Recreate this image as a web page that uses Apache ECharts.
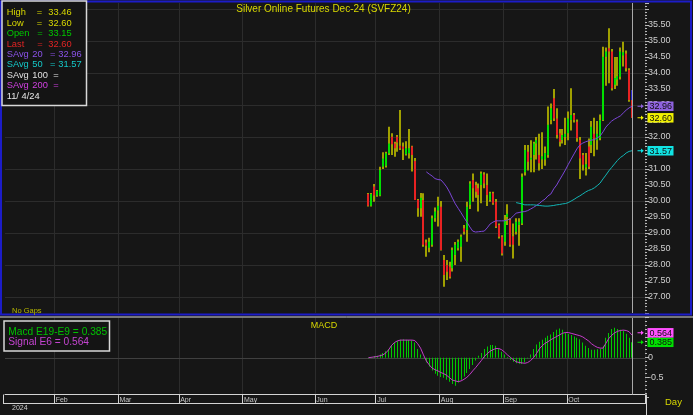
<!DOCTYPE html>
<html>
<head>
<meta charset="utf-8">
<script src="https://cdn.jsdelivr.net/npm/echarts@6.0.0/dist/echarts.min.js"></script>
<style>
html,body{margin:0;padding:0;background:#161616;overflow:hidden;}
#chart{width:693px;height:415px;}
</style>
</head>
<body>
<div id="chart"></div>
<script>
// ---------------- data ----------------
const titleText = 'Silver Online Futures Dec-24 (SVFZ24)';
const monthLabels = ['Feb','Mar','Apr','May','Jun','Jul','Aug','Sep','Oct'];
const monthStartBars = [17,39,60,82,107,128,150,172,194];
const yearLabel = '2024';
const totalBars = 221;
const firstDataBar = 125;
const tradeMonths = ['2024-06','2024-07','2024-08','2024-09','2024-10','2024-11'];
const tradeDays = [
  [26,27,28],
  [1,2,3,5,8,9,10,11,12,15,16,17,18,19,22,23,24,25,26,29,30,31],
  [1,2,5,6,7,8,9,12,13,14,15,16,19,20,21,22,23,26,27,28,29,30],
  [3,4,5,6,9,10,11,12,13,16,17,18,19,20,23,24,25,26,27,30],
  [1,2,3,4,7,8,9,10,11,14,15,16,17,18,21,22,23,24,25,28,29,30,31],
  [1,4]
];
const opens = [30.22,29.85,30.45,30.17,30.17,31.07,31.10,31.49,32.01,31.80,
  32.01,31.73,31.70,31.46,31.49,31.70,31.25,30.03,29.77,30.03,
  28.70,28.54,28.63,29.46,29.70,29.82,28.16,28.00,27.95,27.90,
  28.31,28.52,28.57,29.15,29.09,29.88,30.66,30.50,30.40,30.50,
  30.83,30.50,30.03,30.24,29.98,29.25,28.88,28.73,29.50,29.41,
  28.90,29.04,29.25,29.30,30.90,31.54,31.30,31.44,31.80,31.44,
  31.30,31.30,31.44,32.53,33.21,32.58,32.12,31.91,32.00,32.12,
  32.53,32.69,32.48,31.91,31.44,31.05,31.70,31.75,32.10,31.90,
  31.96,32.53,34.51,34.77,34.67,33.63,33.80,33.88,34.55,34.61,
  34.09,33.15];
const highs = [30.25,30.25,30.53,30.34,31.07,31.52,31.54,32.32,32.12,31.85,
  32.06,32.84,31.83,31.87,32.25,31.73,31.34,30.06,30.25,30.24,
  28.80,28.85,29.55,29.80,30.13,30.00,28.31,28.16,28.10,28.55,
  28.72,28.80,28.95,29.25,29.98,30.62,30.86,30.60,30.55,30.92,
  30.90,30.86,30.29,30.29,30.06,29.30,28.93,29.56,29.90,29.46,
  29.30,29.46,29.46,30.86,31.75,31.75,31.90,31.85,32.00,32.10,
  32.15,31.70,32.95,33.05,33.50,32.90,32.25,32.25,32.60,32.80,
  33.52,32.75,32.55,32.00,31.50,31.50,31.95,32.50,32.60,32.50,
  32.70,34.82,34.80,35.40,34.75,34.50,34.50,34.80,34.98,34.70,
  34.15,33.46];
const lows = [29.83,29.83,29.98,30.13,30.15,31.00,31.05,31.44,31.44,31.38,
  31.54,31.59,31.28,31.42,31.33,30.92,30.03,29.51,29.51,28.57,
  28.26,28.40,28.57,29.35,29.20,28.45,27.32,27.53,27.58,27.80,
  28.00,28.45,28.10,28.95,28.73,29.75,29.98,30.10,29.67,29.93,
  30.40,29.84,29.98,29.88,29.16,28.83,28.30,28.60,29.25,28.57,
  28.20,28.95,28.60,29.25,30.80,30.95,30.90,30.90,31.30,30.95,
  31.00,31.10,31.35,32.40,32.50,31.95,31.70,31.80,31.75,31.90,
  32.20,32.45,31.85,30.69,30.95,30.80,31.00,31.50,31.40,31.60,
  31.90,32.50,33.60,33.68,33.45,33.50,33.60,33.80,34.20,34.05,
  33.10,32.60];
const closes = [29.85,30.22,30.17,30.31,30.97,31.33,31.49,31.80,31.77,31.65,
  31.83,31.65,31.62,31.65,31.65,31.44,30.03,29.77,30.10,28.63,
  28.60,28.73,29.46,29.67,29.85,28.47,27.69,27.79,27.63,28.47,
  28.63,28.73,28.88,29.04,29.82,30.55,30.40,30.29,30.19,30.86,
  30.55,30.19,30.24,29.93,29.20,28.88,28.36,29.41,29.60,28.63,
  28.63,29.35,29.35,30.76,31.59,31.23,31.35,31.80,31.90,31.18,
  31.40,31.50,32.38,32.90,32.58,32.06,31.85,32.06,32.10,32.58,
  32.69,32.53,31.96,31.33,31.13,31.15,31.07,32.32,31.95,32.10,
  32.53,34.51,34.67,34.67,33.52,33.84,33.90,34.67,34.65,34.15,
  33.16,32.60];
const sma20Start = 20;
const sma20 = [30.91,30.84,30.78,30.70,30.67,30.66,30.56,30.44,30.28,30.09,
  29.91,29.77,29.63,29.48,29.34,29.19,29.06,29.03,29.04,29.05,
  29.06,29.16,29.28,29.34,29.38,29.38,29.38,29.38,29.41,29.44,
  29.53,29.62,29.64,29.66,29.67,29.70,29.75,29.80,29.86,29.92,
  30.00,30.06,30.16,30.22,30.38,30.50,30.66,30.81,30.97,31.14,
  31.31,31.47,31.63,31.75,31.81,31.85,31.88,31.90,31.92,31.97,
  32.03,32.16,32.31,32.41,32.50,32.56,32.61,32.66,32.75,32.84,
  32.91,32.96];
const sma50Start = 51;
const sma50 = [29.95,29.93,29.91,29.88,29.88,29.88,29.88,29.87,29.86,29.85,
  29.84,29.84,29.85,29.86,29.88,29.89,29.91,29.92,29.95,30.00,
  30.05,30.11,30.16,30.22,30.28,30.33,30.36,30.41,30.48,30.56,
  30.69,30.81,30.94,31.05,31.16,31.27,31.36,31.42,31.50,31.55,
  31.57];
const macd = [0.00,0.02,0.04,0.05,0.08,0.12,0.16,0.22,0.32,0.38,
  0.42,0.45,0.46,0.45,0.44,0.43,0.38,0.22,0.08,-0.02,
  -0.12,-0.22,-0.32,-0.40,-0.45,-0.48,-0.50,-0.55,-0.60,-0.66,
  -0.70,-0.62,-0.55,-0.47,-0.38,-0.28,-0.18,-0.07,0.05,0.12,
  0.22,0.28,0.32,0.32,0.30,0.22,0.15,0.08,0.02,-0.06,
  -0.10,-0.14,-0.15,-0.16,-0.12,-0.02,0.08,0.22,0.33,0.40,
  0.45,0.50,0.55,0.58,0.64,0.70,0.73,0.70,0.63,0.60,
  0.57,0.53,0.50,0.46,0.38,0.30,0.24,0.20,0.20,0.21,
  0.22,0.30,0.50,0.62,0.72,0.75,0.72,0.70,0.68,0.60,
  0.50,0.385];
const signal = [0.00,0.01,0.02,0.03,0.05,0.07,0.12,0.20,0.31,0.38,
  0.42,0.44,0.44,0.44,0.44,0.44,0.43,0.35,0.24,0.07,
  -0.08,-0.18,-0.26,-0.30,-0.33,-0.37,-0.40,-0.44,-0.50,-0.56,
  -0.58,-0.60,-0.58,-0.54,-0.49,-0.42,-0.33,-0.25,-0.16,-0.07,
  0.03,0.10,0.16,0.20,0.23,0.23,0.20,0.14,0.07,0.01,
  -0.05,-0.10,-0.12,-0.13,-0.14,-0.12,-0.07,0.00,0.10,0.22,
  0.30,0.36,0.40,0.45,0.49,0.53,0.57,0.61,0.63,0.63,
  0.61,0.59,0.57,0.55,0.52,0.47,0.42,0.35,0.30,0.26,
  0.24,0.24,0.36,0.48,0.56,0.62,0.66,0.68,0.69,0.68,
  0.65,0.564];
const macdZeroLevel = 0;

// ---------------- build ----------------
const FONT = 'Liberation Sans';
const C = {
  bg:'#161616', grid:'#2c2c2c', zero:'#404040', axisText:'#d0d0d0', tick:'#b8b8b8',
  up:'#00e000', down:'#e82222', wick:'#a0a000', yellow:'#d8d800',
  sma20:'#7c46d8', sma50:'#12b4b4', hist:'#00c800', signal:'#c43cc8',
  border:'#1c1cc8', box:'#d8d8d8'
};
const dates = [];
tradeMonths.forEach((m, k) => tradeDays[k].forEach(d => dates.push(m + '-' + String(d).padStart(2,'0'))));
const categories = [];
for (let b = 0; b < totalBars; b++) {
  const k = b - firstDataBar;
  categories.push(k >= 0 && k < dates.length ? dates[k] : 'bar' + b);
}
const monthSet = new Set(monthStartBars);
const isMonth = (idx) => monthSet.has(idx);
const last = opens.length - 1;
const lastBar = firstDataBar + last;

const candleData = opens.map((o, i) => [firstDataBar + i, o, closes[i], lows[i], highs[i]]);
const sma20Data = sma20.map((v, i) => [firstDataBar + sma20Start + i, v]);
const sma50Data = sma50.map((v, i) => [firstDataBar + sma50Start + i, v]);
const macdData = macd.map((v, i) => [firstDataBar + i, v]);
const signalData = signal.map((v, i) => [firstDataBar + i, v]);
const T0 = 'rgba(0,0,0,0)';

const option = {
  backgroundColor: C.bg,
  animation: false,
  textStyle: { fontFamily: FONT },
  grid: [
    { left: 5, right: 48, top: 3, height: 310, containLabel: false },
    { left: 5, right: 48, top: 317.7, height: 80, containLabel: false }
  ],
  xAxis: [
    { type: 'category', gridIndex: 0, data: categories, boundaryGap: true,
      axisLine: { show: false, onZero: false }, axisTick: { show: false }, axisLabel: { show: false },
      splitLine: { show: true, interval: isMonth, lineStyle: { color: C.grid, width: 1 } } },
    { type: 'category', gridIndex: 1, data: categories, boundaryGap: true, position: 'bottom', offset: -3,
      axisLine: { show: true, onZero: false, lineStyle: { color: '#d4d4d4', width: 1 } },
      axisTick: { show: true, interval: isMonth, length: 9, inside: false, lineStyle: { color: '#d4d4d4', width: 1 } },
      axisLabel: { show: true, interval: isMonth, align: 'left', margin: 2, fontSize: 7, color: '#c8c8c8', fontFamily: FONT,
        formatter: (v, idx) => { const j = monthStartBars.indexOf(idx); return j >= 0 ? monthLabels[j] : ''; } },
      splitLine: { show: true, interval: isMonth, lineStyle: { color: C.grid, width: 1 } } }
  ],
  yAxis: [
    { type: 'value', gridIndex: 0, position: 'right', min: 26.5, max: 36.1875, interval: 0.5, scale: true,
      axisLine: { show: false },
      axisTick: { show: true, length: 4, lineStyle: { color: C.tick } },
      minorTick: { show: true, splitNumber: 5, length: 2, lineStyle: { color: C.tick } },
      axisLabel: { show: true, margin: 3, fontSize: 9, color: C.axisText, fontFamily: FONT,
        formatter: v => (v >= 27 - 1e-9 && v <= 35.5 + 1e-9) ? v.toFixed(2) : '' },
      splitLine: { show: true, lineStyle: { color: [T0, C.grid], width: 1 } } },
    { type: 'value', gridIndex: 1, position: 'right', min: -1, max: 1, interval: 0.5,
      axisLine: { show: false },
      axisTick: { show: true, length: 4, lineStyle: { color: C.tick } },
      minorTick: { show: true, splitNumber: 5, length: 2, lineStyle: { color: C.tick } },
      axisLabel: { show: true, margin: 3, fontSize: 9, color: C.axisText, fontFamily: FONT,
        formatter: v => (Math.abs(v) < 1e-9 ? '0' : (Math.abs(v) === 0.5 ? String(v) : '')) },
      splitLine: { show: false } }
  ],
  series: [
    { name: 'Price', type: 'custom', xAxisIndex: 0, yAxisIndex: 0, z: 5, data: candleData,
      encode: { x: 0, y: [1,2,3,4] },
      renderItem: (params, api) => {
        const x = api.value(0), o = api.value(1), c = api.value(2), l = api.value(3), h = api.value(4);
        const pH = api.coord([x, h]), pL = api.coord([x, l]), pO = api.coord([x, o]), pC = api.coord([x, c]);
        const cx = Math.round(pH[0]);
        const children = [
          { type: 'rect', shape: { x: cx - 1, y: pH[1], width: 2, height: Math.max(1, pL[1] - pH[1]) }, style: { fill: C.wick } }
        ];
        const top = Math.min(pO[1], pC[1]);
        const bh = Math.abs(pO[1] - pC[1]);
        if (params.dataIndex === last) {
          children.push({ type: 'rect', shape: { x: cx - 1, y: pH[1], width: 2, height: Math.max(0, top - pH[1]) }, style: { fill: '#2424d0' } });
        }
        if (bh >= 0.8) {
          children.push({ type: 'rect', shape: { x: cx - 1, y: top, width: 2, height: bh }, style: { fill: c >= o ? C.up : C.down } });
        }
        return { type: 'group', children };
      } },
    { name: 'SAvg 20', type: 'line', xAxisIndex: 0, yAxisIndex: 0, data: sma20Data, symbol: 'none', z: 6,
      lineStyle: { color: C.sma20, width: 1 } },
    { name: 'SAvg 50', type: 'line', xAxisIndex: 0, yAxisIndex: 0, data: sma50Data, symbol: 'none', z: 6,
      lineStyle: { color: C.sma50, width: 1 } },
    { name: 'Macd', type: 'custom', xAxisIndex: 1, yAxisIndex: 1, z: 5, data: macdData,
      encode: { x: 0, y: 1 },
      renderItem: (params, api) => {
        const x = api.value(0), v = api.value(1);
        const p = api.coord([x, v]), z0 = api.coord([x, 0]);
        const cx = Math.floor(p[0]);
        return { type: 'rect', shape: { x: cx, y: Math.min(p[1], z0[1]), width: 1, height: Math.max(0.5, Math.abs(p[1] - z0[1])) },
          style: { fill: C.hist } };
      } },
    { name: 'Signal', type: 'line', xAxisIndex: 1, yAxisIndex: 1, data: signalData, symbol: 'none', z: 6,
      lineStyle: { color: C.signal, width: 1 } }
  ]
};

const chart = echarts.init(document.getElementById('chart'), null, { renderer: 'canvas', width: 693, height: 415 });
chart.setOption(option);

// ---------------- overlay graphics ----------------
const T = (x, y, text, fill, size, align) => ({
  type: 'text', x, y, z: 100,
  style: { text, fill, fontSize: size, fontFamily: FONT, align: align || 'left', verticalAlign: 'middle',
    textAlign: align || 'left', textVerticalAlign: 'middle' }
});
const g = [];
// MACD zero line (behind histogram)
const zeroY = Math.round(chart.convertToPixel({ gridIndex: 1 }, [0, macdZeroLevel])[1]) + 0.5;
g.push({ type: 'line', z: 0, zlevel: 0, silent: true, shape: { x1: 5, y1: zeroY, x2: 645, y2: zeroY }, style: { stroke: C.zero, lineWidth: 1 } });
// panel borders
g.push({ type: 'rect', z: 90, shape: { x: 1, y: 1.5, width: 690, height: 313 }, style: { fill: 'none', stroke: C.border, lineWidth: 2 } });
g.push({ type: 'line', z: 90, shape: { x1: 0, y1: 317, x2: 693, y2: 317 }, style: { stroke: '#d8d8d8', lineWidth: 1 } });
g.push({ type: 'line', z: 90, shape: { x1: 3, y1: 403.5, x2: 646, y2: 403.5 }, style: { stroke: '#d4d4d4', lineWidth: 1 } });
g.push({ type: 'line', z: 90, shape: { x1: 3.5, y1: 394.5, x2: 3.5, y2: 403.5 }, style: { stroke: '#d4d4d4', lineWidth: 1 } });
g.push({ type: 'line', z: 90, shape: { x1: 646.5, y1: 394.5, x2: 646.5, y2: 415 }, style: { stroke: '#d4d4d4', lineWidth: 1 } });

// title & labels
g.push(T(323.5, 9.5, titleText, C.yellow, 10, 'center'));
g.push(T(324, 325.5, 'MACD', C.yellow, 9, 'center'));
g.push(T(12, 310.5, 'No Gaps', '#b8b800', 7.5));
g.push(T(12, 408.5, yearLabel, '#d0d0d0', 7));
g.push(T(665, 402.5, 'Day', C.yellow, 9.5));

// price legend box
const lastDate = dates[last].split('-');
const dateText = parseInt(lastDate[1], 10) + '/' + String(parseInt(lastDate[2], 10)).padStart(2, ' ') + '/' + lastDate[0].slice(2);
g.push({ type: 'rect', z: 95, shape: { x: 2, y: 1, width: 84.5, height: 104.5 }, style: { fill: '#141414', stroke: C.box, lineWidth: 1.5 } });
const rowY = k => 12.8 + 10.4 * k;
const legendRows = [
  ['High', null, '=', 36.7, highs[last].toFixed(2), 48.3, C.yellow],
  ['Low', null, '=', 36.7, lows[last].toFixed(2), 48.3, C.yellow],
  ['Open', null, '=', 37.3, opens[last].toFixed(2), 48.3, '#00c800'],
  ['Last', null, '=', 37.3, closes[last].toFixed(2), 48.3, '#e02424'],
  ['SAvg', '20', '=', 50, sma20[sma20.length - 1].toFixed(2), 58.3, '#8a52e8'],
  ['SAvg', '50', '=', 50, sma50[sma50.length - 1].toFixed(2), 58.3, '#14c8c8'],
  ['SAvg', '100', '=', 53.3, '', 0, '#e0e0e0'],
  ['SAvg', '200', '=', 53.3, '', 0, '#d040e0']
];
legendRows.forEach((r, k) => {
  g.push(T(6.7, rowY(k), r[0], r[6], 9.3));
  if (r[1]) g.push(T(32.3, rowY(k), r[1], r[6], 9.3));
  g.push(T(r[3], rowY(k), r[2], r[6], 9.3));
  if (r[4]) g.push(T(r[5], rowY(k), r[4], r[6], 9.3));
});
g.push(T(6.7, rowY(8), dateText, '#e8e8e8', 9.3));

// MACD legend box
g.push({ type: 'rect', z: 95, shape: { x: 4, y: 321, width: 105.5, height: 30 }, style: { fill: '#141414', stroke: C.box, lineWidth: 1.5 } });
g.push(T(8.3, 331.7, 'Macd E19-E9 = ' + macd[last].toFixed(3), '#00c000', 10.2));
g.push(T(8.3, 342.3, 'Signal E6 = ' + signal[last].toFixed(3), '#c444d0', 10.2));

// current bar line
const curX = Math.round(chart.convertToPixel({ gridIndex: 0 }, [lastBar, 30])[0]) + 0.5;
g.push({ type: 'line', z: 20, shape: { x1: curX, y1: 3, x2: curX, y2: 313 }, style: { stroke: '#a8a8a8', lineWidth: 1 } });
g.push({ type: 'line', z: 20, shape: { x1: curX, y1: 318, x2: curX, y2: 394.5 }, style: { stroke: '#a8a8a8', lineWidth: 1 } });

// value tags on right axis
function tags(gridIndex, items) {
  const h = 9.5;
  items.forEach(it => { it.y = chart.convertToPixel({ gridIndex }, [lastBar, it.v])[1]; });
  items.sort((a, b) => b.y - a.y);
  for (let i = 1; i < items.length; i++) {
    if (items[i - 1].y - items[i].y < h) items[i].y = items[i - 1].y - h;
  }
  items.forEach(it => {
    const y = it.y;
    g.push({ type: 'rect', z: 98, shape: { x: 647.5, y: y - h / 2, width: 26, height: h }, style: { fill: it.bg } });
    g.push(T(649.5, y + 0.3, it.text, '#101010', 9));
    g.push({ type: 'polygon', z: 98, shape: { points: [[637.5, y - 0.5], [641, y - 0.5], [641, y - 2.2], [643.8, y], [641, y + 2.2], [641, y + 0.5], [637.5, y + 0.5]] },
      style: { fill: it.bg } });
  });
}
tags(0, [
  { v: sma20[sma20.length - 1], text: sma20[sma20.length - 1].toFixed(2), bg: '#8e62de' },
  { v: closes[last], text: closes[last].toFixed(2), bg: '#f0f000' },
  { v: sma50[sma50.length - 1], text: sma50[sma50.length - 1].toFixed(2), bg: '#10e4e4' }
]);
tags(1, [
  { v: signal[last], text: signal[last].toFixed(3), bg: '#ff50ff' },
  { v: macd[last], text: macd[last].toFixed(3), bg: '#00e000' }
]);

chart.setOption({ graphic: g });
</script>
</body>
</html>
